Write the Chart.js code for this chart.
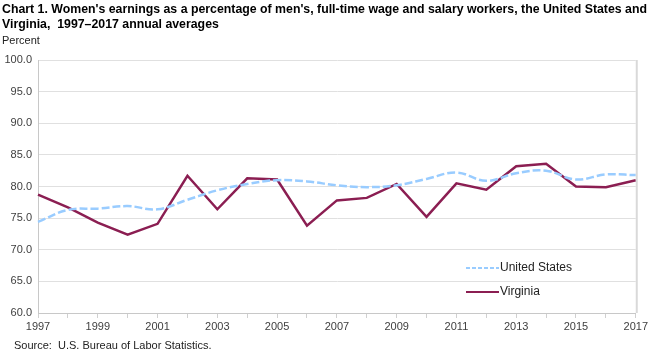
<!DOCTYPE html>
<html lang="en">
<head>
    <meta charset="UTF-8">
    <title>Women's earnings as a percentage of men's, US and Virginia</title>
    <script src="https://cdn.jsdelivr.net/npm/chart.js"></script>
    <style>
        html, body { margin: 0; padding: 0; background: #fff; }
        #wrap { width: 650px; height: 353px; position: relative; }
    </style>
</head>
<body>
    <div id="wrap"><canvas id="myChart"></canvas></div>
    <script>
        // data
        const years = ['1997','1998','1999','2000','2001','2002','2003','2004','2005','2006','2007',
                       '2008','2009','2010','2011','2012','2013','2014','2015','2016','2017'];
        const unitedStates = [74.4, 76.3, 76.5, 76.9, 76.4, 77.9, 79.4, 80.4, 81.0, 80.8, 80.2,
                              79.9, 80.2, 81.2, 82.2, 80.9, 82.1, 82.5, 81.1, 81.9, 81.8];
        const virginia = [78.7, 76.7, 74.3, 72.4, 74.1, 81.7, 76.4, 81.3, 81.1, 73.8, 77.8,
                          78.2, 80.4, 75.2, 80.5, 79.5, 83.2, 83.6, 80.0, 79.9, 81.0];

        const titleLines = [
            "Chart 1. Women's earnings as a percentage of men's, full-time wage and salary workers, the United States and",
            "Virginia,  1997\u20132017 annual averages"
        ];
        const yUnit = 'Percent';
        const sourceNote = 'Source:  U.S. Bureau of Labor Statistics.';

        const FONT = '"Liberation Sans", Arial, sans-serif';

        // titles, source, legend and right border drawn on the canvas
        const textPlugin = {
            id: 'textPlugin',
            afterDraw(chart) {
                const c = chart.ctx;
                const area = chart.chartArea;
                c.save();
                c.fillStyle = '#000';
                c.textBaseline = 'middle';
                c.textAlign = 'left';
                c.font = 'bold 13px ' + FONT;
                c.fillText(titleLines[0], 2, 9, 645);
                c.fillText(titleLines[1], 2, 24, 645 * c.measureText(titleLines[1]).width / c.measureText(titleLines[0]).width);
                c.font = '11px ' + FONT;
                c.fillStyle = '#222';
                c.fillText(yUnit, 2, 41);
                c.fillText(sourceNote, 14, 346);

                // right border
                c.strokeStyle = '#d9d9d9';
                c.lineWidth = 2;
                c.beginPath();
                c.moveTo(area.right + 1, area.top);
                c.lineTo(area.right + 1, area.bottom);
                c.stroke();

                // legend
                chart.data.datasets.forEach((ds, i) => {
                    const y = 268 + i * 24;
                    c.strokeStyle = ds.borderColor;
                    c.lineWidth = 2;
                    c.setLineDash(ds.borderDash ? [4, 2] : []);
                    c.beginPath();
                    c.moveTo(466, y);
                    c.lineTo(499, y);
                    c.stroke();
                    c.setLineDash([]);
                    c.fillStyle = '#222';
                    c.font = '12px ' + FONT;
                    c.fillText(ds.label, 500, y);
                });
                c.restore();
            }
        };

        const ctx = document.getElementById('myChart').getContext('2d');
        const myChart = new Chart(ctx, {
            type: 'line',
            data: {
                labels: years,
                datasets: [
                    {
                        label: 'United States',
                        data: unitedStates,
                        borderColor: '#99ccff',
                        borderWidth: 2.5,
                        borderDash: [8, 3],
                        pointRadius: 0,
                        tension: 0.4,
                        fill: false
                    },
                    {
                        label: 'Virginia',
                        data: virginia,
                        borderColor: '#8b1e52',
                        borderWidth: 2.5,
                        pointRadius: 0,
                        tension: 0,
                        fill: false
                    }
                ]
            },
            options: {
                responsive: true,
                maintainAspectRatio: false,
                animation: false,
                layout: { padding: { top: 60, left: 0, right: 10, bottom: 20 } },
                plugins: {
                    legend: { display: false },
                    tooltip: { enabled: false }
                },
                scales: {
                    x: {
                        offset: false,
                        grid: { drawOnChartArea: false, color: '#d0d0d0', tickLength: 5 },
                        border: { color: '#c8c8c8' },
                        ticks: {
                            autoSkip: false,
                            maxRotation: 0,
                            color: '#404040',
                            font: { family: FONT, size: 11 },
                            padding: 2,
                            callback: function (val, idx) { return idx % 2 === 0 ? this.getLabelForValue(val) : ''; }
                        },
                        afterFit: (s) => { s.height = 20; }
                    },
                    y: {
                        min: 60,
                        max: 100,
                        grid: { color: '#e0e0e0', drawTicks: false },
                        border: { color: '#c8c8c8' },
                        ticks: {
                            stepSize: 5,
                            color: '#404040',
                            font: { family: FONT, size: 11 },
                            padding: 6,
                            callback: (v) => v.toFixed(1)
                        },
                        afterFit: (s) => { s.width = 38; }
                    }
                }
            },
            plugins: [textPlugin]
        });
    </script>
</body>
</html>
